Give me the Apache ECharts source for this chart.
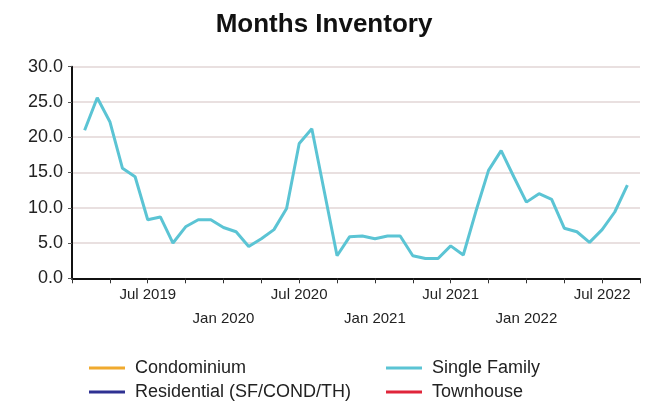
<!DOCTYPE html>
<html>
<head>
<meta charset="utf-8">
<script src="https://cdn.jsdelivr.net/npm/echarts@6/dist/echarts.min.js"></script>
<style>
html,body{margin:0;padding:0;background:#fff;}
#chart{width:648px;height:402px;}
</style>
</head>
<body>
<div id="chart"></div>
<script>
var months = [
  'Jan 2019','Feb 2019','Mar 2019','Apr 2019','May 2019','Jun 2019','Jul 2019','Aug 2019','Sep 2019','Oct 2019','Nov 2019','Dec 2019',
  'Jan 2020','Feb 2020','Mar 2020','Apr 2020','May 2020','Jun 2020','Jul 2020','Aug 2020','Sep 2020','Oct 2020','Nov 2020','Dec 2020',
  'Jan 2021','Feb 2021','Mar 2021','Apr 2021','May 2021','Jun 2021','Jul 2021','Aug 2021','Sep 2021','Oct 2021','Nov 2021','Dec 2021',
  'Jan 2022','Feb 2022','Mar 2022','Apr 2022','May 2022','Jun 2022','Jul 2022','Aug 2022','Sep 2022','Oct 2022'
];
var singleFamily = [
  null, 21.0, 25.6, 22.2, 15.6, 14.4, 8.3, 8.7, 5.0, 7.3, 8.3, 8.3,
  7.2, 6.6, 4.5, 5.6, 6.9, 9.9, 19.1, 21.2, 12.2, 3.2, 5.9, 6.0,
  5.6, 6.0, 6.0, 3.2, 2.8, 2.8, 4.6, 3.3, 9.5, 15.3, 18.1, 14.4,
  10.8, 12.0, 11.2, 7.1, 6.6, 5.1, 6.9, 9.4, 13.2, null
];
var condominium = [];
var residential = [];
var townhouse = [];
var yTicks = [0, 5, 10, 15, 20, 25, 30];

var FONT = "'Liberation Sans', Arial, sans-serif";
var chart = echarts.init(document.getElementById('chart'), null, {renderer: 'canvas'});
function makeLegend(left, names) {
  return {
    orient: 'vertical',
    left: left,
    top: 359,
    height: 80,
    padding: 0,
    icon: 'rect',
    itemWidth: 36,
    itemHeight: 3,
    itemGap: 6,
    textStyle: {fontFamily: FONT, fontSize: 18, color: '#222', padding: [0, 0, 0, 5]},
    selectedMode: false,
    data: names
  };
}
chart.setOption({
  backgroundColor: '#fff',
  animation: false,
  title: {
    text: 'Months Inventory',
    left: 'center',
    top: 7,
    textStyle: {fontFamily: FONT, fontSize: 26, fontWeight: 'bold', color: '#111'}
  },
  legend: [
    makeLegend(89, ['Condominium', 'Residential (SF/COND/TH)']),
    makeLegend(386, ['Single Family', 'Townhouse'])
  ],
  grid: {left: 72, right: 8, top: 66.7, bottom: 123.7, containLabel: false},
  xAxis: {
    type: 'category',
    data: months,
    boundaryGap: false,
    axisLine: {show: true, lineStyle: {color: '#111', width: 2}},
    axisTick: {show: true, interval: 2, length: 5, lineStyle: {color: '#333', width: 1}},
    axisLabel: {
      interval: function (i, v) { return (v.indexOf('Jul') === 0) || (v.indexOf('Jan') === 0 && i > 0); },
      formatter: function (v) { return v.indexOf('Jan') === 0 ? '\n' + v : v; },
      fontFamily: FONT, fontSize: 15, color: '#222', lineHeight: 24, margin: 5
    },
    splitLine: {show: false}
  },
  yAxis: {
    type: 'value',
    min: yTicks[0],
    max: yTicks[yTicks.length - 1],
    interval: 5,
    axisLine: {show: true, lineStyle: {color: '#111', width: 2}},
    axisTick: {show: true, length: 4, lineStyle: {color: '#555'}},
    axisLabel: {formatter: function (v) { return v.toFixed(1); }, fontFamily: FONT, fontSize: 18, color: '#222', margin: 9},
    splitLine: {show: true, lineStyle: {color: '#e2d6d6', width: 1.5}}
  },
  series: [
    {name: 'Condominium', type: 'line', data: condominium, color: '#f0aa2e', showSymbol: false},
    {name: 'Single Family', type: 'line', data: singleFamily, color: '#5bc4d4', showSymbol: false, symbol: 'none',
      lineStyle: {width: 3, color: '#5bc4d4'}, connectNulls: false},
    {name: 'Residential (SF/COND/TH)', type: 'line', data: residential, color: '#2e3192', showSymbol: false},
    {name: 'Townhouse', type: 'line', data: townhouse, color: '#e0253a', showSymbol: false}
  ]
});
</script>
</body>
</html>
